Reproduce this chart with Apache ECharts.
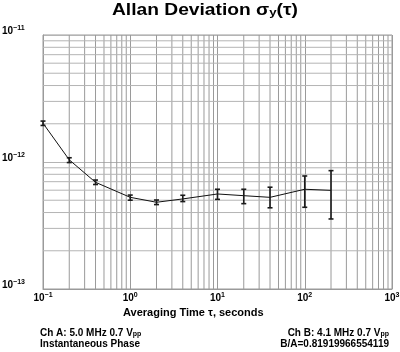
<!DOCTYPE html>
<html>
<head>
<meta charset="utf-8">
<script src="https://cdn.jsdelivr.net/npm/echarts@6/dist/echarts.min.js"></script>
<style>
  html, body { margin: 0; padding: 0; background: #fff; }
  #chart { width: 400px; height: 352px; }
</style>
</head>
<body>
<div id="chart"></div>
<script>
// Allan deviation vs averaging time, log-log

const tau = [0.1, 0.2, 0.4, 1, 2, 4, 10, 20, 40, 100, 200];
const adev = [2.02e-12, 1.04e-12, 6.92e-13, 5.27e-13, 4.82e-13, 5.12e-13, 5.60e-13, 5.43e-13, 5.27e-13, 6.10e-13, 5.98e-13];
const errLow = [1.94e-12, 0.99e-12, 6.65e-13, 5.00e-13, 4.62e-13, 4.88e-13, 5.08e-13, 4.70e-13, 4.36e-13, 4.40e-13, 3.56e-13];
const errHigh = [2.10e-12, 1.08e-12, 7.21e-13, 5.49e-13, 5.02e-13, 5.47e-13, 6.10e-13, 6.10e-13, 6.33e-13, 7.76e-13, 8.55e-13];

// minor grid positions (2..9 in each decade)
const xMinor = [0.2, 0.3, 0.4, 0.5, 0.6, 0.7, 0.8, 0.9, 2, 3, 4, 5, 6, 7, 8, 9,
  20, 30, 40, 50, 60, 70, 80, 90, 200, 300, 400, 500, 600, 700, 800, 900];
const yMinor = [2e-13, 3e-13, 4e-13, 5e-13, 6e-13, 7e-13, 8e-13, 9e-13,
  2e-12, 3e-12, 4e-12, 5e-12, 6e-12, 7e-12, 8e-12, 9e-12];

const X_MIN = 0.1, X_MAX = 1000, Y_MIN = 1e-13, Y_MAX = 1e-11;
const GRID_V = '#9a9a9a', GRID_H = '#b4b4b4';
const FONT = "'Liberation Sans', Arial, sans-serif";

function powLabel(v) {
  const e = Math.round(Math.log10(v));
  return '{b|10}{s|' + (e < 0 ? '\u2212' + (-e) : e) + '}';
}
const richPow = {
  b: { fontSize: 10, fontWeight: 'bold', color: '#000', fontFamily: FONT },
  s: { fontSize: 7, fontWeight: 'bold', color: '#000', fontFamily: FONT, padding: [0, 0, 6, 0] },
};

const chart = echarts.init(document.getElementById('chart'), null, { renderer: 'canvas' });

chart.setOption({
  backgroundColor: '#fff',
  animation: false,
  grid: {
    left: 43, right: 8, top: 35, bottom: 63, containLabel: false, outerBoundsMode: 'none',
    show: true, borderColor: GRID_V, borderWidth: 1,
  },
  xAxis: {
    type: 'log', logBase: 10, min: X_MIN, max: X_MAX,
    axisLine: { show: true, lineStyle: { color: GRID_V, width: 1 } },
    axisTick: { show: false },
    splitLine: { show: true, lineStyle: { color: GRID_V, width: 1 } },
    axisLabel: { margin: 3, formatter: powLabel, rich: richPow, showMinLabel: true, showMaxLabel: true },
  },
  yAxis: {
    type: 'log', logBase: 10, min: Y_MIN, max: Y_MAX,
    axisLine: { show: true, lineStyle: { color: GRID_V, width: 1 } },
    axisTick: { show: false },
    splitLine: { show: true, lineStyle: { color: GRID_H, width: 1 } },
    axisLabel: { margin: 41, align: 'left', padding: [0, 0, 8, 0], formatter: powLabel, rich: richPow },
  },
  series: [
    {
      // minor vertical grid lines
      type: 'custom',
      silent: true,
      data: xMinor.map(v => [v, Y_MIN]),
      z: 1,
      renderItem(params, api) {
        const a = api.coord([api.value(0), Y_MIN]);
        const b = api.coord([api.value(0), Y_MAX]);
        return { type: 'line', shape: { x1: a[0], y1: a[1], x2: b[0], y2: b[1] },
          style: { stroke: GRID_V, lineWidth: 1 } };
      },
    },
    {
      // minor horizontal grid lines
      type: 'custom',
      silent: true,
      data: yMinor.map(v => [X_MIN, v]),
      z: 1,
      renderItem(params, api) {
        const a = api.coord([X_MIN, api.value(1)]);
        const b = api.coord([X_MAX, api.value(1)]);
        return { type: 'line', shape: { x1: a[0], y1: a[1], x2: b[0], y2: b[1] },
          style: { stroke: GRID_H, lineWidth: 1 } };
      },
    },
    {
      type: 'line',
      data: tau.map((t, i) => [t, adev[i]]),
      symbol: 'none',
      lineStyle: { color: '#111', width: 1 },
      z: 5,
    },
    {
      type: 'custom',
      data: tau.map((t, i) => [t, errLow[i], errHigh[i]]),
      encode: { x: 0, y: [1, 2] },
      z: 6,
      renderItem(params, api) {
        const lo = api.coord([api.value(0), api.value(1)]);
        const hi = api.coord([api.value(0), api.value(2)]);
        const w = 2.5;
        const st = { stroke: '#1a1a1a', lineWidth: 1.6 };
        return {
          type: 'group',
          children: [
            { type: 'line', shape: { x1: lo[0], y1: lo[1], x2: hi[0], y2: hi[1] }, style: st },
            { type: 'line', shape: { x1: lo[0] - w, y1: lo[1], x2: lo[0] + w, y2: lo[1] }, style: st },
            { type: 'line', shape: { x1: hi[0] - w, y1: hi[1], x2: hi[0] + w, y2: hi[1] }, style: st },
          ],
        };
      },
    },
  ],
  graphic: [
    {
      type: 'text', x: 112, y: 3, scaleX: 1.2,
      style: {
        text: '{t|Allan Deviation \u03c3}{sub|y}{t|(\u03c4)}',
        rich: {
          t: { fontSize: 16, fontWeight: 'bold', fontFamily: FONT, fill: '#000' },
          sub: { fontSize: 11, fontWeight: 'bold', fontFamily: FONT, fill: '#000', padding: [4, 0, 0, 0] },
        },
      },
    },
    {
      type: 'text', left: 123, top: 307,
      style: { text: 'Averaging Time \u03c4, seconds', fontSize: 11, fontWeight: 'bold', fontFamily: FONT, fill: '#000' },
    },
    {
      type: 'text', left: 40, top: 328,
      style: {
        text: '{a|Ch A: 5.0 MHz 0.7 V}{p|pp}\n{a|Instantaneous Phase}',
        rich: {
          a: { fontSize: 10, fontWeight: 'bold', fontFamily: FONT, fill: '#000', lineHeight: 11 },
          p: { fontSize: 7, fontWeight: 'bold', fontFamily: FONT, fill: '#000', padding: [3, 0, 0, 0], lineHeight: 11 },
        },
      },
    },
    {
      type: 'text', right: 11, top: 328,
      style: {
        text: '{a|Ch B: 4.1 MHz 0.7 V}{p|pp}\n{a|B/A=0.81919966554119}',
        align: 'right',
        rich: {
          a: { fontSize: 10, fontWeight: 'bold', fontFamily: FONT, fill: '#000', lineHeight: 11, align: 'right' },
          p: { fontSize: 7, fontWeight: 'bold', fontFamily: FONT, fill: '#000', padding: [3, 0, 0, 0], lineHeight: 11, align: 'right' },
        },
      },
    },
  ],
});
</script>
</body>
</html>
